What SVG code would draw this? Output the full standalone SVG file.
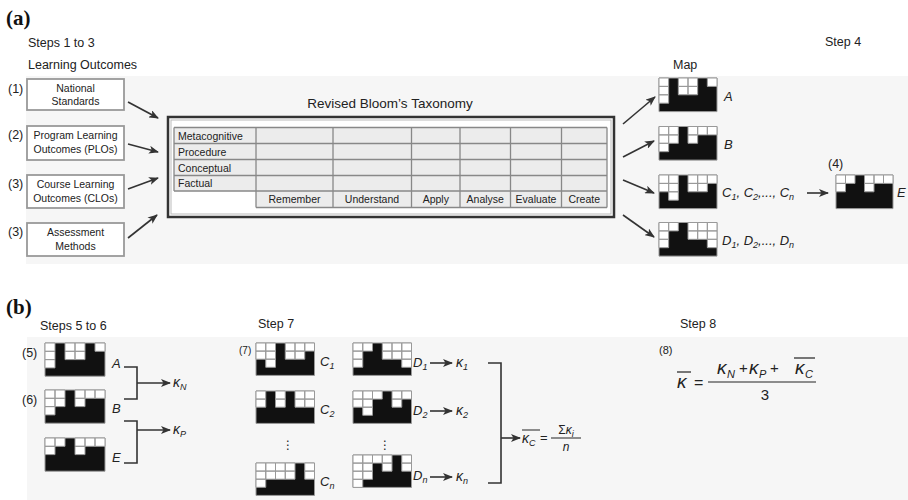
<svg xmlns="http://www.w3.org/2000/svg" xmlns:xlink="http://www.w3.org/1999/xlink" width="908" height="500" viewBox="0 0 908 500">
<style>
text{font-family:"Liberation Sans",Arial,sans-serif;fill:#222}
.t12{font-size:12.5px}
.bt{font-size:10.5px;text-anchor:middle}
.rl{font-size:10.5px}
.ch{font-size:10.5px;text-anchor:middle}
.pn{font-family:"Liberation Serif","Times New Roman",serif;font-weight:bold;font-size:21px;fill:#111}
.it{font-style:italic;font-size:13px}
.sub{font-size:9px}
.box{fill:#fff;stroke:#999;stroke-width:1.8}
.ar{stroke:#333;stroke-width:1.6;fill:none;marker-end:url(#ah)}
.br{stroke:#333;stroke-width:1.6;fill:none}
.gl{stroke:#888;stroke-width:1.3;fill:none}
.mb{fill:#111;stroke:#999;stroke-width:1;vector-effect:non-scaling-stroke}
.mw{fill:#fff;stroke:#999;stroke-width:1;vector-effect:non-scaling-stroke}
.k{font-style:italic;font-size:14px}
.fk{font-style:italic;font-size:19px}
.fs{font-style:italic;font-size:11px}
</style>
<defs>
<marker id="ah" viewBox="0 0 10 8" refX="9" refY="4" markerWidth="10" markerHeight="8" markerUnits="userSpaceOnUse" orient="auto"><path d="M0,0L10,4L0,8L2.5,4z" fill="#333"/></marker>
<g id="pA"><rect class="mb" width="6" height="4"/><path class="mw" d="M0 0h1v1h-1zM2 0h1v1h-1zM3 0h1v1h-1zM5 0h1v1h-1zM0 1h1v1h-1zM2 1h1v1h-1zM3 1h1v1h-1zM0 2h1v1h-1z"/></g>
<g id="pB"><rect class="mb" width="6" height="4"/><path class="mw" d="M0 0h1v1h-1zM1 0h1v1h-1zM3 0h1v1h-1zM4 0h1v1h-1zM5 0h1v1h-1zM0 1h1v1h-1zM1 1h1v1h-1zM3 1h1v1h-1zM0 2h1v1h-1z"/></g>
<g id="pC"><rect class="mb" width="6" height="4"/><path class="mw" d="M0 0h1v1h-1zM1 0h1v1h-1zM3 0h1v1h-1zM4 0h1v1h-1zM5 0h1v1h-1zM0 1h1v1h-1zM1 1h1v1h-1zM3 1h1v1h-1zM4 1h1v1h-1zM1 2h1v1h-1z"/></g>
<g id="pD"><rect class="mb" width="6" height="4"/><path class="mw" d="M0 0h1v1h-1zM1 0h1v1h-1zM3 0h1v1h-1zM4 0h1v1h-1zM5 0h1v1h-1zM0 1h1v1h-1zM3 1h1v1h-1zM4 1h1v1h-1zM5 1h1v1h-1zM0 2h1v1h-1zM5 2h1v1h-1z"/></g>
<g id="pE"><rect class="mb" width="6" height="4"/><path class="mw" d="M0 0h1v1h-1zM1 0h1v1h-1zM3 0h1v1h-1zM4 0h1v1h-1zM5 0h1v1h-1zM0 1h1v1h-1zM3 1h1v1h-1z"/></g>
<g id="pC2"><rect class="mb" width="6" height="4"/><path class="mw" d="M0 0h1v1h-1zM2 0h1v1h-1zM4 0h1v1h-1zM5 0h1v1h-1zM0 1h1v1h-1zM2 1h1v1h-1zM4 1h1v1h-1zM5 1h1v1h-1z"/></g>
<g id="pCn"><rect class="mb" width="6" height="4"/><path class="mw" d="M0 0h1v1h-1zM1 0h1v1h-1zM2 0h1v1h-1zM3 0h1v1h-1zM5 0h1v1h-1zM0 1h1v1h-1zM1 1h1v1h-1zM2 1h1v1h-1zM3 1h1v1h-1zM5 1h1v1h-1zM0 2h1v1h-1z"/></g>
<g id="pD2"><rect class="mb" width="6" height="4"/><path class="mw" d="M0 0h1v1h-1zM1 0h1v1h-1zM2 0h1v1h-1zM4 0h1v1h-1zM5 0h1v1h-1zM0 1h1v1h-1zM1 1h1v1h-1zM4 1h1v1h-1zM1 2h1v1h-1z"/></g>
<g id="pDn"><rect class="mb" width="6" height="4"/><path class="mw" d="M0 0h1v1h-1zM1 0h1v1h-1zM2 0h1v1h-1zM3 0h1v1h-1zM5 0h1v1h-1zM0 1h1v1h-1zM1 1h1v1h-1zM3 1h1v1h-1zM5 1h1v1h-1zM0 2h1v1h-1zM1 2h1v1h-1zM0 3h1v1h-1z"/></g>
</defs>
<rect width="908" height="500" fill="#fff"/>
<rect x="26" y="76" width="882" height="188" fill="#f6f6f6"/>
<rect x="27" y="337" width="881" height="163" fill="#f6f6f6"/>

<!-- Panel (a) labels -->
<text class="pn" x="6" y="25">(a)</text>
<text class="t12" x="28" y="47">Steps 1 to 3</text>
<text class="t12" x="28" y="69">Learning Outcomes</text>
<text class="t12" x="825" y="46">Step 4</text>
<text class="t12" x="673" y="69">Map</text>

<g id="n1"><text class="t12" x="8" y="93">(1)</text><rect class="box" x="27" y="79" width="97" height="31"/><text class="bt" x="75.5" y="92">National</text><text class="bt" x="75.5" y="105">Standards</text></g>
<g id="n2"><text class="t12" x="8" y="139">(2)</text><rect class="box" x="27" y="126" width="97" height="34"/><text class="bt" x="75.5" y="139">Program Learning</text><text class="bt" x="75.5" y="153">Outcomes (PLOs)</text></g>
<g id="n3"><text class="t12" x="8" y="188">(3)</text><rect class="box" x="27" y="175" width="97" height="33"/><text class="bt" x="75.5" y="188">Course Learning</text><text class="bt" x="75.5" y="202">Outcomes (CLOs)</text></g>
<g id="n4"><text class="t12" x="8" y="236">(3)</text><rect class="box" x="27" y="223" width="97" height="33"/><text class="bt" x="75.5" y="236">Assessment</text><text class="bt" x="75.5" y="250">Methods</text></g>

<g id="bloom">
<text x="390" y="108" text-anchor="middle" font-size="13.5">Revised Bloom’s Taxonomy</text>
<rect x="168" y="117" width="446" height="100" fill="#fff" stroke="#333" stroke-width="2.5"/>
<rect x="171" y="120" width="440" height="94" fill="none" stroke="#bbb" stroke-width="1"/>
<rect x="174" y="127.5" width="82" height="63.5" fill="#ececec"/>
<rect x="256" y="127.5" width="351" height="80" fill="#ececec"/>
<path class="gl" d="M174 127.5H607M174 143.5H607M174 159.5H607M174 175.5H607M174 191H607M256 207.5H607M174 127.5V191M256 127.5V207.5M333 127.5V207.5M411.5 127.5V207.5M460 127.5V207.5M510.5 127.5V207.5M561.5 127.5V207.5M607 127.5V207.5"/>
<text class="rl" x="178" y="139.5">Metacognitive</text>
<text class="rl" x="178" y="155.5">Procedure</text>
<text class="rl" x="178" y="171.5">Conceptual</text>
<text class="rl" x="178" y="187">Factual</text>
<text class="ch" x="294.5" y="203">Remember</text>
<text class="ch" x="372" y="203">Understand</text>
<text class="ch" x="435.8" y="203">Apply</text>
<text class="ch" x="485.3" y="203">Analyse</text>
<text class="ch" x="536" y="203">Evaluate</text>
<text class="ch" x="584.3" y="203">Create</text>
</g>

<g id="mapA"><use xlink:href="#pA" transform="translate(659,78) scale(9.667,8.4)"/><text class="it" x="724" y="101">A</text></g>
<g id="mapB"><use xlink:href="#pB" transform="translate(659,126.5) scale(9.667,8.4)"/><text class="it" x="724" y="149">B</text></g>
<g id="mapC"><use xlink:href="#pC" transform="translate(659,175) scale(9.667,8.4)"/><text class="it" x="722" y="197">C<tspan class="sub" dy="3">1</tspan><tspan dy="-3">, C</tspan><tspan class="sub" dy="3">2</tspan><tspan dy="-3">,..., C</tspan><tspan class="sub" dy="3">n</tspan></text></g>
<g id="mapD"><use xlink:href="#pD" transform="translate(659,222.5) scale(9.667,8.4)"/><text class="it" x="722" y="245">D<tspan class="sub" dy="3">1</tspan><tspan dy="-3">, D</tspan><tspan class="sub" dy="3">2</tspan><tspan dy="-3">,..., D</tspan><tspan class="sub" dy="3">n</tspan></text></g>
<g id="mapE"><text class="t12" x="828" y="168">(4)</text><use xlink:href="#pE" transform="translate(836,175) scale(9.5,8.4)"/><text class="it" x="897" y="197">E</text></g>

<!-- Panel (b) -->
<text class="pn" x="6" y="314">(b)</text>
<text class="t12" x="40" y="330">Steps 5 to 6</text>
<text class="t12" x="22" y="357">(5)</text>
<text class="t12" x="22" y="404">(6)</text>
<g id="bA"><use xlink:href="#pA" transform="translate(45,343) scale(10,8.3)"/><text class="it" x="112" y="368">A</text></g>
<g id="bB"><use xlink:href="#pB" transform="translate(45,390) scale(10,8.3)"/><text class="it" x="112" y="413">B</text></g>
<g id="bE"><use xlink:href="#pE" transform="translate(45,438) scale(10,8.3)"/><text class="it" x="112" y="462">E</text></g>
<g id="kN"><text class="k" x="173" y="387">κ<tspan class="sub" dy="3">N</tspan></text></g>
<g id="kP"><text class="k" x="173" y="434">κ<tspan class="sub" dy="3">P</tspan></text></g>

<text class="t12" x="258" y="328">Step 7</text>
<text x="239" y="354" font-size="10">(7)</text>
<g id="c1"><use xlink:href="#pC" transform="translate(256,343) scale(9.75,8.1)"/><text class="it" x="320" y="366">C<tspan class="sub" dy="3">1</tspan></text></g>
<g id="c2"><use xlink:href="#pC2" transform="translate(256,391) scale(9.75,8.1)"/><text class="it" x="320" y="414">C<tspan class="sub" dy="3">2</tspan></text></g>
<g id="cn"><use xlink:href="#pCn" transform="translate(256,463) scale(9.75,8.1)"/><text class="it" x="320" y="486">C<tspan class="sub" dy="3">n</tspan></text></g>
<text x="288" y="449" font-size="12" text-anchor="middle" style="font-family:'DejaVu Sans',sans-serif">⋮</text>
<g id="d1"><use xlink:href="#pD" transform="translate(353,343) scale(9.75,8.1)"/><text class="it" x="413" y="367">D<tspan class="sub" dy="3">1</tspan></text></g>
<g id="d2"><use xlink:href="#pD2" transform="translate(353,391) scale(9.75,8.1)"/><text class="it" x="413" y="415">D<tspan class="sub" dy="3">2</tspan></text></g>
<g id="dn"><use xlink:href="#pDn" transform="translate(353,455) scale(9.75,8.1)"/><text class="it" x="413" y="480">D<tspan class="sub" dy="3">n</tspan></text></g>
<text x="385" y="449" font-size="12" text-anchor="middle" style="font-family:'DejaVu Sans',sans-serif">⋮</text>
<g id="k1"><text class="k" x="456" y="367">κ<tspan class="sub" dy="3">1</tspan></text></g>
<g id="k2"><text class="k" x="456" y="415">κ<tspan class="sub" dy="3">2</tspan></text></g>
<g id="kn"><text class="k" x="456" y="481">κ<tspan class="sub" dy="3">n</tspan></text></g>

<g id="kC">
<text class="k" x="522" y="443">κ<tspan class="sub" dy="3">C</tspan></text>
<line x1="522" y1="430" x2="540" y2="430" stroke="#222" stroke-width="1"/>
<text x="540" y="442" font-size="13">=</text>
<text x="566" y="434" font-size="12" text-anchor="middle">Σ<tspan font-style="italic">κ</tspan><tspan class="sub" font-style="italic" dy="3">i</tspan></text>
<line x1="551" y1="438" x2="581" y2="438" stroke="#222" stroke-width="1"/>
<text x="566" y="451" font-size="12" font-style="italic" text-anchor="middle">n</text>
</g>

<g id="step8">
<text class="t12" x="680" y="328">Step 8</text>
<text x="659" y="354" font-size="11">(8)</text>
<text class="fk" x="677" y="388">κ</text>
<line x1="677" y1="372" x2="691" y2="372" stroke="#222" stroke-width="1.2"/>
<text x="694" y="388" font-size="16">=</text>
<line x1="708" y1="382" x2="816" y2="382" stroke="#222" stroke-width="1.2"/>
<text class="fk" x="717" y="374">κ</text><text class="fs" x="727" y="378">N</text>
<text x="739" y="373" font-size="15">+</text>
<text class="fk" x="749" y="374">κ</text><text class="fs" x="759" y="378">P</text>
<text x="770" y="373" font-size="15">+</text>
<text class="fk" x="795" y="374">κ</text><text class="fs" x="805" y="378">C</text>
<line x1="794" y1="358" x2="815" y2="358" stroke="#222" stroke-width="1.2"/>
<text x="765" y="400" font-size="15" text-anchor="middle">3</text>
</g>

<g id="connectors">
<line class="ar" x1="128" y1="102" x2="158" y2="118"/>
<line class="ar" x1="128" y1="144" x2="158" y2="152"/>
<line class="ar" x1="128" y1="189" x2="158" y2="178"/>
<line class="ar" x1="128" y1="238" x2="157" y2="215"/>
<line class="ar" x1="623" y1="124" x2="655" y2="97"/>
<line class="ar" x1="623" y1="157" x2="654" y2="141"/>
<line class="ar" x1="623" y1="180" x2="654" y2="193"/>
<line class="ar" x1="623" y1="215" x2="654" y2="237"/>
<line class="ar" x1="807" y1="193" x2="828" y2="193"/>
<path class="br" d="M124 367H137V399H124"/>
<line class="ar" x1="137" y1="383" x2="170" y2="383"/>
<path class="br" d="M124 421H137V463H124"/>
<line class="ar" x1="137" y1="430" x2="170" y2="430"/>
<line class="ar" x1="430" y1="363" x2="452" y2="363"/>
<line class="ar" x1="430" y1="411" x2="452" y2="411"/>
<line class="ar" x1="430" y1="477" x2="452" y2="477"/>
<path class="br" d="M488 363H501V483H488"/>
<line class="ar" x1="501" y1="438" x2="520" y2="438"/>
</g>
</svg>
